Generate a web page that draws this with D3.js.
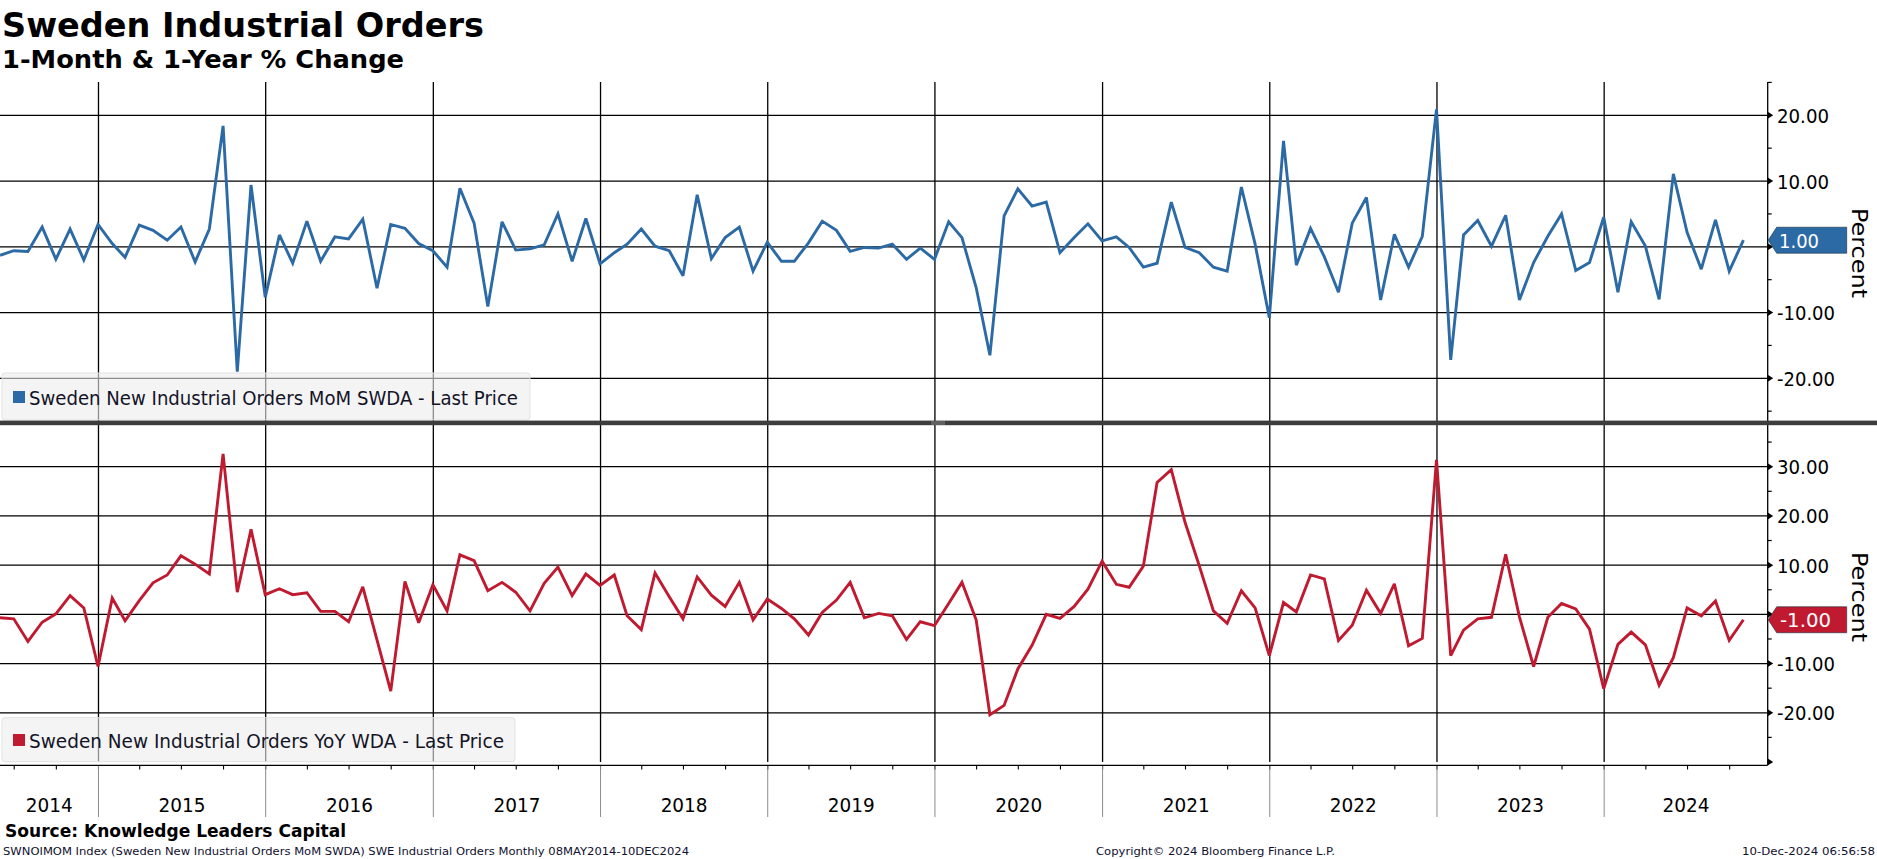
<!DOCTYPE html>
<html><head><meta charset="utf-8">
<script src="https://cdn.jsdelivr.net/npm/d3@7"></script>
<style>body{margin:0;background:#fff;} svg{display:block;}</style>
</head><body><svg id="c" width="1877" height="859"></svg>
<script>
// ---------- DATA ----------
const titleText = "Sweden Industrial Orders";
const subtitleText = "1-Month & 1-Year % Change";
const firstMonth = [2014, 5]; // May 2014 (month-end observations)
const momValues = [
  -1.3, -0.6, -0.7, 3.0, -1.9, 2.7, -2.0, 3.4,
  0.5, -1.6, 3.3, 2.5, 1.0, 3.0, -2.3, 2.7, 18.4, -19.0, 9.4, -7.7,
  1.8, -2.5, 3.9, -2.2, 1.5, 1.2, 4.2, -6.3, 3.4, 2.8, 0.5, -0.6,
  -3.1, 8.9, 3.6, -9.1, 3.8, -0.5, -0.3, 0.3, 5.0, -2.2, 4.3, -2.6,
  -0.9, 0.4, 2.7, 0.1, -0.6, -4.4, 7.9, -1.8, 1.4, 3.0, -3.7, 0.7,
  -2.2, -2.2, 0.6, 3.9, 2.5, -0.7, -0.1, -0.2, 0.4, -1.9, -0.2, -1.9,
  3.8, 1.4, -6.2, -16.5, 4.7, 8.8, 6.2, 6.8, -0.9, 1.4, 3.5, 0.9,
  1.5, -0.1, -3.1, -2.5, 6.8, -0.1, -0.9, -3.1, -3.7, 9.1, 0.4, -10.8,
  16.1, -2.8, 2.8, -1.5, -6.9, 3.6, 7.5, -8.1, 1.9, -3.1, 1.6, 20.9,
  -17.2, 1.8, 4.0, 0.1, 4.8, -8.1, -2.4, 1.6, 5.0, -3.6, -2.4, 4.5,
  -6.9, 3.8, 0.1, -8.0, 11.1, 2.2, -3.4, 4.1, -3.7, 1.0
];
const yoyValues = [
  -0.7, -0.9, -5.5, -1.6, 0.1, 3.8, 1.3, -10.6,
  3.3, -1.3, 2.8, 6.4, 8.0, 11.9, 10.2, 8.2, 32.6, 4.5, 17.3, 4.0,
  5.2, 4.0, 4.4, 0.6, 0.6, -1.5, 5.6, -5.2, -15.6, 6.7, -1.7, 6.0,
  0.7, 12.1, 10.9, 4.8, 6.5, 4.5, 0.7, 6.3, 9.6, 3.8, 8.2, 5.9,
  8.0, -0.3, -3.1, 8.4, 3.6, -0.9, 7.6, 3.9, 1.6, 6.5, -1.1, 3.1,
  1.2, -0.9, -4.2, 0.4, 2.9, 6.5, -0.7, 0.2, -0.3, -5.1, -1.5, -2.3,
  2.2, 6.5, -1.1, -20.4, -18.5, -11.1, -6.3, 0.0, -0.8, 1.6, 5.1, 10.8,
  6.1, 5.5, 9.8, 26.8, 29.4, 18.7, 9.9, 0.7, -1.8, 4.8, 1.3, -8.4,
  2.4, 0.5, 8.0, 7.2, -5.3, -2.2, 4.9, 0.2, 6.2, -6.4, -4.9, 31.4,
  -8.4, -3.2, -0.9, -0.6, 12.2, -0.5, -10.6, -0.6, 2.2, 1.1, -3.0, -15.1,
  -6.1, -3.6, -6.2, -14.4, -8.8, 1.3, -0.3, 2.7, -5.3, -1.1
];
const momTicks = [20, 10, 0, -10, -20];
const momMinorTicks = [25, 15, 5, -5, -15, -25];
const yoyTicks = [30, 20, 10, 0, -10, -20];
const yoyMinorTicks = [35, 25, 15, 5, -5, -15, -25];
const yearLabels = [2014, 2015, 2016, 2017, 2018, 2019, 2020, 2021, 2022, 2023, 2024];
const momLegend = "Sweden New Industrial Orders MoM SWDA - Last Price";
const yoyLegend = "Sweden New Industrial Orders YoY WDA - Last Price";
const momLast = "1.00";
const yoyLast = "-1.00";
const axisTitle = "Percent";
const sourceText = "Source: Knowledge Leaders Capital";
const footLeft = "SWNOIMOM Index (Sweden New Industrial Orders MoM SWDA) SWE Industrial Orders  Monthly 08MAY2014-10DEC2024";
const footMid = "Copyright\u00A9 2024 Bloomberg Finance L.P.";
const footRight = "10-Dec-2024 06:56:58";

// ---------- LAYOUT ----------
const svg = d3.select("#c");
const axisX = 1767.7;
const BLUE = "#2c6aa6", RED = "#bf1a30";
const FONT = "'DejaVu Sans', sans-serif";

const x = d3.scaleTime()
  .domain([new Date(2014, 4, 31), new Date(2024, 11, 23)])
  .range([0, axisX]);
const dates = momValues.map((v, i) => new Date(firstMonth[0], firstMonth[1] + i, 0));
const yearStarts = yearLabels.slice(1).map(y => new Date(y, 0, 1));

// Title
svg.append("text").attr("x", 2).attr("y", 37).text(titleText)
  .attr("font-family", FONT).attr("font-weight", "bold").attr("font-size", 34)
  .attr("textLength", 482).attr("lengthAdjust", "spacingAndGlyphs").attr("fill", "#000");
svg.append("text").attr("x", 2).attr("y", 68).text(subtitleText)
  .attr("font-family", FONT).attr("font-weight", "bold").attr("font-size", 24)
  .attr("textLength", 402).attr("lengthAdjust", "spacingAndGlyphs").attr("fill", "#000");

const panels = [
  { top: 82, bottom: 421, y: d3.scaleLinear().domain([-20, 20]).range([378.3, 115.3]),
    ticks: momTicks, minor: momMinorTicks, values: momValues, color: BLUE,
    legend: momLegend, legBox: [2, 373, 528, 47], legBase: 405, last: momLast, pctY: 253 },
  { top: 425, bottom: 765, y: d3.scaleLinear().domain([-30, 30]).range([762, 466.7]),
    ticks: yoyTicks, minor: yoyMinorTicks, values: yoyValues, color: RED,
    legend: yoyLegend, legBox: [2, 717.7, 513, 44], legBase: 748, last: yoyLast, pctY: 597 }
];

panels.forEach((p, pi) => {
  const g = svg.append("g");
  // horizontal gridlines
  g.selectAll(".hg").data(p.ticks).enter().append("line")
    .attr("x1", 0).attr("x2", axisX)
    .attr("y1", d => p.y(d)).attr("y2", d => p.y(d))
    .attr("stroke", "#000").attr("stroke-width", 1.3);
  // vertical year lines
  g.selectAll(".vg").data(yearStarts).enter().append("line")
    .attr("x1", d => x(d)).attr("x2", d => x(d))
    .attr("y1", p.top).attr("y2", pi === 0 ? p.bottom : 762)
    .attr("stroke", "#000").attr("stroke-width", 1.3);
  // data line
  g.append("path").datum(p.values)
    .attr("d", d3.line().x((d, i) => x(dates[i])).y(d => p.y(d)))
    .attr("fill", "none").attr("stroke", p.color).attr("stroke-width", 2.9)
    .attr("stroke-linejoin", "miter").attr("stroke-miterlimit", 3);
  // legend
  const [lx, ly, lw, lh] = p.legBox;
  g.append("rect").attr("x", lx).attr("y", ly).attr("width", lw).attr("height", lh)
    .attr("rx", 3).attr("fill", "#ececec").attr("fill-opacity", 0.6)
    .attr("stroke", "#e2e2e2").attr("stroke-width", 1);
  g.append("rect").attr("x", 13).attr("y", p.legBase - 14).attr("width", 12).attr("height", 12)
    .attr("fill", p.color);
  g.append("text").attr("x", 29).attr("y", p.legBase).text(p.legend)
    .attr("font-family", FONT).attr("font-size", 19).attr("fill", "#141428")
    .attr("textLength", pi === 0 ? 489 : 475).attr("lengthAdjust", "spacingAndGlyphs");
  // right axis
  g.append("line").attr("x1", axisX).attr("x2", axisX).attr("y1", p.top).attr("y2", p.bottom)
    .attr("stroke", "#000").attr("stroke-width", 1.3);
  g.selectAll(".mt").data(p.minor).enter().append("line")
    .attr("x1", axisX).attr("x2", axisX + 4)
    .attr("y1", d => p.y(d)).attr("y2", d => p.y(d))
    .attr("stroke", "#000").attr("stroke-width", 1.2);
  g.selectAll(".tri").data(p.ticks).enter().append("path")
    .attr("d", d => `M${axisX},${p.y(d) - 3.5}L${axisX + 5.5},${p.y(d)}L${axisX},${p.y(d) + 3.5}Z`)
    .attr("fill", "#000");
  // tick labels (the 0.00 label sits hidden under the last-value tag, so it is not drawn)
  g.selectAll(".tl").data(p.ticks.filter(d => d !== 0)).enter().append("text")
    .attr("x", 1777).attr("y", d => p.y(d) + 7.5)
    .text(d => d3.format(".2f")(d).replace("\u2212", "-"))
    .attr("font-family", FONT).attr("font-size", 19).attr("fill", "#000")
    .attr("textLength", d => d < 0 ? 58 : 52).attr("lengthAdjust", "spacingAndGlyphs");
  // last value tag
  const lastVal = p.values[p.values.length - 1];
  const yv = p.y(lastVal);
  g.append("path")
    .attr("d", `M${axisX + 0.5},${yv}L${axisX + 9},${yv - 13}L1846.7,${yv - 13}L1846.7,${yv + 13}L${axisX + 9},${yv + 13}Z`)
    .attr("fill", p.color).attr("stroke", "#1a2a3a").attr("stroke-width", 0.6);
  g.append("text").attr("x", pi === 0 ? 1779 : 1780).attr("y", yv + 7.5).text(p.last)
    .attr("font-family", FONT).attr("font-size", 19).attr("fill", "#fff")
    .attr("textLength", pi === 0 ? 40 : 51).attr("lengthAdjust", "spacingAndGlyphs");
  // axis title
  g.append("text").attr("transform", `translate(1852,${p.pctY}) rotate(90)`)
    .attr("text-anchor", "middle").text(axisTitle)
    .attr("font-family", FONT).attr("font-size", 22).attr("fill", "#000")
    .attr("textLength", 90).attr("lengthAdjust", "spacingAndGlyphs");
});

// Divider between panels
svg.append("rect").attr("x", 0).attr("y", 420.6).attr("width", 1877).attr("height", 4.6).attr("fill", "#3d3d3d");
[422, 424].forEach(yy => svg.append("line").attr("x1", 931).attr("x2", 945).attr("y1", yy).attr("y2", yy)
  .attr("stroke", "#9a9a9a").attr("stroke-width", 0.8));

// Bottom x axis
const yBottom = panels[1].y;
svg.append("path").attr("d", `M${axisX},${yBottom(-30) - 3.5}L${axisX + 5.5},${yBottom(-30)}L${axisX},${yBottom(-30) + 3.5}Z`).attr("fill", "#000");
svg.append("line").attr("x1", 0).attr("x2", axisX).attr("y1", 765.3).attr("y2", 765.3)
  .attr("stroke", "#000").attr("stroke-width", 1.3);
const quarters = d3.timeMonth.every(3).range(new Date(2014, 6, 1), new Date(2024, 11, 23));
svg.selectAll(".qt").data(quarters).enter().append("line")
  .attr("x1", d => x(d)).attr("x2", d => x(d)).attr("y1", 765.3).attr("y2", 769.5)
  .attr("stroke", "#000").attr("stroke-width", 1.1);
svg.selectAll(".ys").data(yearStarts).enter().append("line")
  .attr("x1", d => x(d)).attr("x2", d => x(d)).attr("y1", 766).attr("y2", 817)
  .attr("stroke", "#8c8c8c").attr("stroke-width", 1);
svg.selectAll(".yl").data(yearLabels).enter().append("text")
  .attr("x", d => {
    const a = Math.max(0, x(new Date(d, 0, 1)));
    const b = Math.min(axisX, x(new Date(d + 1, 0, 1)));
    return (a + b) / 2;
  })
  .attr("y", 811.5).attr("text-anchor", "middle").text(d => d)
  .attr("font-family", FONT).attr("font-size", 20).attr("fill", "#000")
  .attr("textLength", 47).attr("lengthAdjust", "spacingAndGlyphs");

// Source and footer
svg.append("text").attr("x", 5).attr("y", 837).text(sourceText)
  .attr("font-family", FONT).attr("font-weight", "bold").attr("font-size", 18).attr("fill", "#000")
  .attr("textLength", 341).attr("lengthAdjust", "spacingAndGlyphs");
svg.append("text").attr("x", 3).attr("y", 854.5).text(footLeft)
  .attr("font-family", FONT).attr("font-size", 10.5).attr("fill", "#101030")
  .attr("textLength", 686).attr("lengthAdjust", "spacingAndGlyphs");
svg.append("text").attr("x", 1096).attr("y", 854.5).text(footMid)
  .attr("font-family", FONT).attr("font-size", 10.5).attr("fill", "#101030")
  .attr("textLength", 239).attr("lengthAdjust", "spacingAndGlyphs");
svg.append("text").attr("x", 1742).attr("y", 854.5).text(footRight)
  .attr("font-family", FONT).attr("font-size", 10.5).attr("fill", "#101030")
  .attr("textLength", 133).attr("lengthAdjust", "spacingAndGlyphs");
</script>
</body></html>
